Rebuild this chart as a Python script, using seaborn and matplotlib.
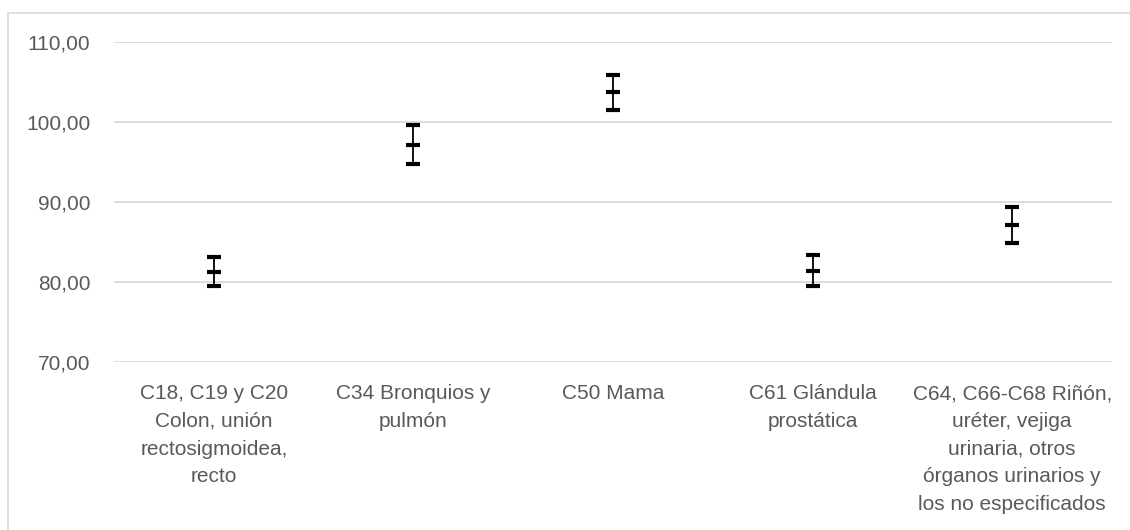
import matplotlib
matplotlib.use("Agg")
import matplotlib.pyplot as plt
import seaborn as sns
import pandas as pd
import numpy as np
from matplotlib.patches import Rectangle

categories = [
    "C18, C19 y C20\nColon, unión\nrectosigmoidea,\nrecto",
    "C34 Bronquios y\npulmón",
    "C50 Mama",
    "C61 Glándula\nprostática",
    "C64, C66-C68 Riñón,\nuréter, vejiga\nurinaria, otros\nórganos urinarios y\nlos no especificados",
]
low = [79.5, 94.8, 101.5, 79.45, 84.9]
mid = [81.3, 97.15, 103.7, 81.4, 87.1]
high = [83.1, 99.65, 105.9, 83.4, 89.4]
yticks = [70, 80, 90, 100, 110]
ytick_labels = ["70,00", "80,00", "90,00", "100,00", "110,00"]

sns.set_theme(style="white")
plt.rcParams["font.family"] = ["Liberation Sans", "DejaVu Sans"]

fig = plt.figure(figsize=(11.3, 5.3), dpi=100)
ax = fig.add_axes([114 / 1130, 1 - 362 / 530, (1112 - 114) / 1130, 320 / 530])

df = pd.DataFrame({"cat": categories, "mid": mid})
sns.pointplot(data=df, x="cat", y="mid", order=categories, linestyle="none",
              marker="_", markersize=10, markeredgewidth=3, color="black",
              errorbar=None, ax=ax, zorder=4)

xs = np.arange(len(categories))
yerr = [np.array(mid) - np.array(low), np.array(high) - np.array(mid)]
ax.errorbar(xs, mid, yerr=yerr, fmt="none", ecolor="black", elinewidth=1.3,
            capsize=5, capthick=3, zorder=3)

ax.set_ylim(70, 110)
ax.set_xlim(-0.5, len(categories) - 0.5)
ax.set_yticks(yticks)
ax.set_yticklabels(ytick_labels)
ax.yaxis.grid(True, color="#d9d9d9", linewidth=1.3)
ax.set_axisbelow(True)
for s in ax.spines.values():
    s.set_visible(False)
ax.set_xlabel("")
ax.set_ylabel("")
ax.tick_params(axis="both", length=0, labelsize=15, labelcolor="#595959")
ax.tick_params(axis="y", pad=17)
ax.tick_params(axis="x", pad=16)
for lbl in ax.get_xticklabels():
    lbl.set_linespacing(1.58)
    lbl.set_ha("center")
    lbl.set_va("top")

fig.patches.append(Rectangle((8 / 1130, -0.1), 1.2, 1 - 13 / 530 + 0.1,
                             transform=fig.transFigure, fill=False,
                             edgecolor="#d9d9d9", linewidth=1.2))

fig.savefig("out.png", dpi=100)
